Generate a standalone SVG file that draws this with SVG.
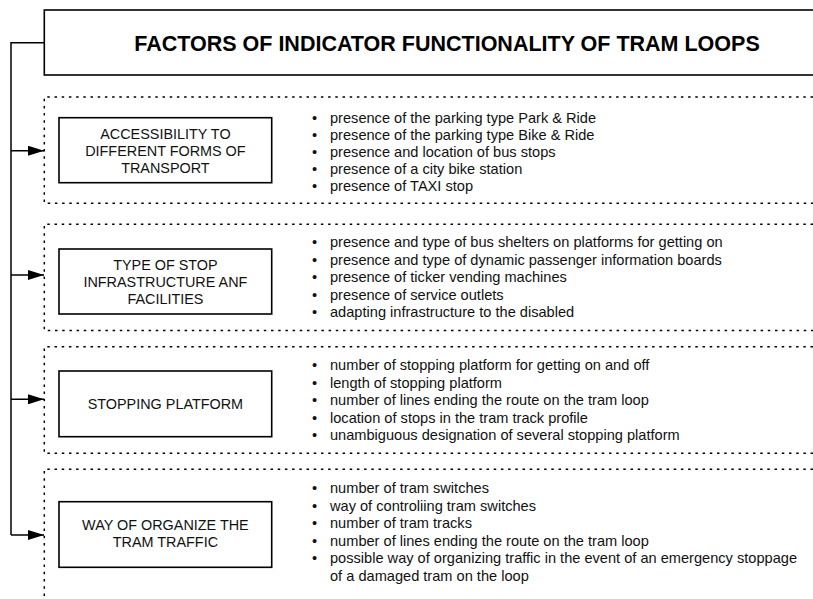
<svg xmlns="http://www.w3.org/2000/svg" width="813" height="599" viewBox="0 0 813 599">
<defs>
<style>
.box{fill:#fff;stroke:#000;stroke-width:1.6}
.grp{fill:none;stroke:#000;stroke-width:1.5;stroke-dasharray:2.5 4.7}
.conn{fill:none;stroke:#000;stroke-width:1.5}
.title{font-family:"Liberation Sans",Arial,sans-serif;font-weight:bold;font-size:21.5px;fill:#000}
.lbl{font-family:"Liberation Sans",Arial,sans-serif;font-size:14.4px;fill:#111;text-anchor:middle}
.item{font-family:"Liberation Sans",Arial,sans-serif;font-size:14.6px;fill:#111}
</style>
<marker id="arr" viewBox="0 0 16 10" refX="16" refY="5" markerWidth="16" markerHeight="10" markerUnits="userSpaceOnUse" orient="auto">
<path d="M0,0 L16,5 L0,10 Z" fill="#000"/>
</marker>
</defs>
<rect width="813" height="599" fill="#fff"/>

<g id="title">
<rect class="box" x="44.3" y="10" width="800" height="65"/>
<text class="title" x="447" y="50.5" text-anchor="middle">FACTORS OF INDICATOR FUNCTIONALITY OF TRAM LOOPS</text>
</g>

<g id="connectors">
<polyline class="conn" points="44.3,42.7 11,42.7 11,535"/>
<line class="conn" x1="11" y1="150.7" x2="44" y2="150.7" marker-end="url(#arr)"/>
<line class="conn" x1="11" y1="275" x2="44" y2="275" marker-end="url(#arr)"/>
<line class="conn" x1="11" y1="399.3" x2="44" y2="399.3" marker-end="url(#arr)"/>
<line class="conn" x1="11" y1="535" x2="44" y2="535" marker-end="url(#arr)"/>
</g>

<g id="group1">
<polyline class="grp" points="813,97 44.3,97 44.3,203.3 813,203.3"/>
<rect class="box" x="59" y="117.7" width="212.7" height="65"/>
<text class="lbl" x="165.4" y="138.5">ACCESSIBILITY TO</text>
<text class="lbl" x="165.4" y="155.5">DIFFERENT FORMS OF</text>
<text class="lbl" x="165.4" y="172.5">TRANSPORT</text>
<text class="item" x="312" y="123">•</text><text class="item" x="330" y="123">presence of the parking type Park &amp; Ride</text>
<text class="item" x="312" y="140">•</text><text class="item" x="330" y="140">presence of the parking type Bike &amp; Ride</text>
<text class="item" x="312" y="157">•</text><text class="item" x="330" y="157">presence and location of bus stops</text>
<text class="item" x="312" y="174">•</text><text class="item" x="330" y="174">presence of a city bike station</text>
<text class="item" x="312" y="191">•</text><text class="item" x="330" y="191">presence of TAXI stop</text>
</g>

<g id="group2">
<polyline class="grp" points="813,224.3 44.3,224.3 44.3,330.5 813,330.5"/>
<rect class="box" x="59" y="249" width="212.7" height="65"/>
<text class="lbl" x="165.4" y="269.5">TYPE OF STOP</text>
<text class="lbl" x="165.4" y="286.5">INFRASTRUCTURE ANF</text>
<text class="lbl" x="165.4" y="303.5">FACILITIES</text>
<text class="item" x="312" y="247">•</text><text class="item" x="330" y="247">presence and type of bus shelters on platforms for getting on</text>
<text class="item" x="312" y="264.5">•</text><text class="item" x="330" y="264.5">presence and type of dynamic passenger information boards</text>
<text class="item" x="312" y="282">•</text><text class="item" x="330" y="282">presence of ticker vending machines</text>
<text class="item" x="312" y="299.5">•</text><text class="item" x="330" y="299.5">presence of service outlets</text>
<text class="item" x="312" y="317">•</text><text class="item" x="330" y="317">adapting infrastructure to the disabled</text>
</g>

<g id="group3">
<polyline class="grp" points="813,346.7 44.3,346.7 44.3,453.3 813,453.3"/>
<rect class="box" x="59" y="371" width="212.7" height="65.7"/>
<text class="lbl" x="165.4" y="409">STOPPING PLATFORM</text>
<text class="item" x="312" y="370">•</text><text class="item" x="330" y="370">number of stopping platform for getting on and off</text>
<text class="item" x="312" y="387.5">•</text><text class="item" x="330" y="387.5">length of stopping platform</text>
<text class="item" x="312" y="405">•</text><text class="item" x="330" y="405">number of lines ending the route on the tram loop</text>
<text class="item" x="312" y="422.5">•</text><text class="item" x="330" y="422.5">location of stops in the tram track profile</text>
<text class="item" x="312" y="440">•</text><text class="item" x="330" y="440">unambiguous designation of several stopping platform</text>
</g>

<g id="group4">
<polyline class="grp" points="813,469.3 44.3,469.3 44.3,599"/>
<rect class="box" x="59" y="501.7" width="212.7" height="65.6"/>
<text class="lbl" x="165.4" y="530">WAY OF ORGANIZE THE</text>
<text class="lbl" x="165.4" y="547">TRAM TRAFFIC</text>
<text class="item" x="312" y="493">•</text><text class="item" x="330" y="493">number of tram switches</text>
<text class="item" x="312" y="510.5">•</text><text class="item" x="330" y="510.5">way of controliing tram switches</text>
<text class="item" x="312" y="528">•</text><text class="item" x="330" y="528">number of tram tracks</text>
<text class="item" x="312" y="545.5">•</text><text class="item" x="330" y="545.5">number of lines ending the route on the tram loop</text>
<text class="item" x="312" y="563">•</text><text class="item" x="330" y="563">possible way of organizing traffic in the event of an emergency stoppage</text>
<text class="item" x="330" y="580.5">of a damaged tram on the loop</text>
</g>
</svg>
